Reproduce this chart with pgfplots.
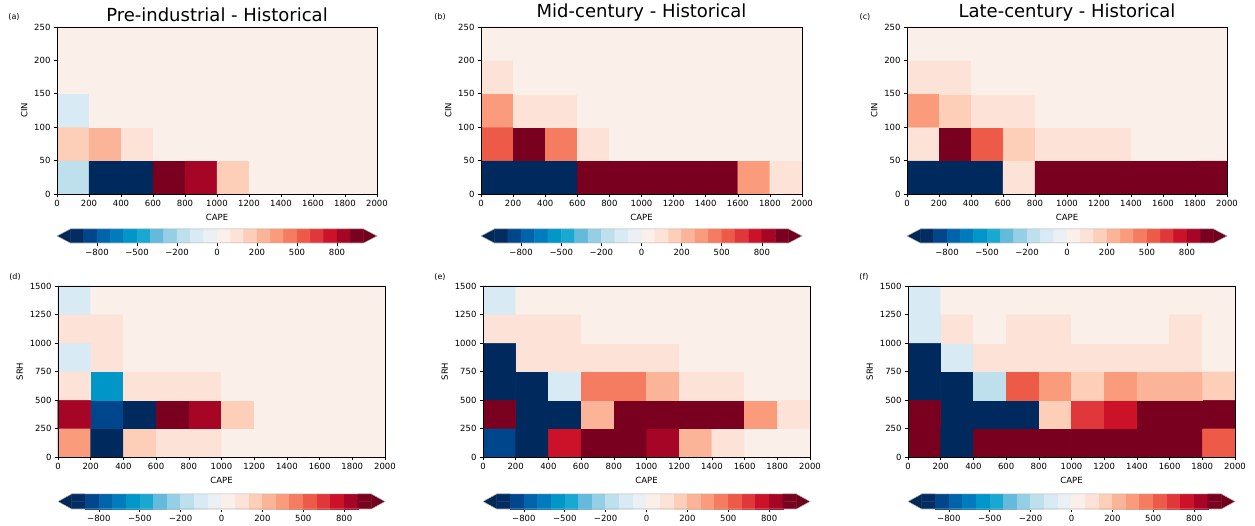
\documentclass[border=0pt]{standalone}
\usepackage{pgfplots}
\usepackage{pgfplotstable}
\pgfplotsset{compat=1.18}
\usepackage{fontspec}
\setmainfont{DejaVu Sans}

\pgfplotsset{
  colormap={diffmap}{
    rgb255(0pt)=(0,42,94)
    rgb255(150pt)=(3,44,96)
    rgb255(250pt)=(0,70,140)
    rgb255(350pt)=(0,100,170)
    rgb255(450pt)=(0,124,190)
    rgb255(550pt)=(0,150,200)
    rgb255(650pt)=(25,168,210)
    rgb255(750pt)=(100,186,219)
    rgb255(850pt)=(148,207,230)
    rgb255(950pt)=(190,224,236)
    rgb255(1025pt)=(216,234,243)
    rgb255(1075pt)=(234,240,243)
    rgb255(1125pt)=(250,239,233)
    rgb255(1175pt)=(253,227,215)
    rgb255(1250pt)=(253,206,184)
    rgb255(1350pt)=(252,180,152)
    rgb255(1450pt)=(250,155,123)
    rgb255(1550pt)=(245,124,97)
    rgb255(1650pt)=(238,90,72)
    rgb255(1750pt)=(224,55,58)
    rgb255(1850pt)=(204,18,40)
    rgb255(1950pt)=(166,5,38)
    rgb255(2050pt)=(122,0,31)
    rgb255(2200pt)=(122,0,31)
  },
}
\definecolor{cbunder}{RGB}{2,40,88}
\definecolor{cbover}{RGB}{112,0,28}

\pgfplotsset{
  heat/.style={
    scale only axis, enlargelimits=false, axis on top,
    xmin=0, xmax=2000, xtick={0,200,...,2000},
    tick align=outside, xtick pos=bottom, ytick pos=left,
    major tick length=3pt, tick style={black, line width=0.6pt},
    axis line style={line width=0.8pt},
    colormap name=diffmap, point meta min=-1100, point meta max=1100,
    xlabel={CAPE},
    ticklabel style={font=\fontsize{8.5}{10}\selectfont},
    label style={font=\fontsize{8.5}{10}\selectfont},
    /pgf/number format/1000 sep={},
    /pgf/number format/assume math mode=true,
    title style={font=\fontsize{18}{20}\selectfont, yshift=-4pt},
  },
  top/.style={heat, ymin=0, ymax=250, ytick={0,50,...,250}, ylabel={CIN}, width=320pt, height=167pt},
  bot/.style={heat, ymin=0, ymax=1500, ytick={0,250,...,1500}, ylabel={SRH}, width=327pt, height=171pt},
  cbar/.style={
    scale only axis, xmin=-1, xmax=23, ymin=0, ymax=1, clip=false,
    axis line style={draw=none}, ytick=\empty,
    xtick={2,5,8,11,14,17,20},
    xticklabels={−800,−500,−200,0,200,500,800},
    tick align=outside, xtick pos=bottom, major tick length=3pt,
    tick style={black, line width=0.6pt},
    ticklabel style={font=\fontsize{8.5}{10}\selectfont},
    colormap name=diffmap, point meta min=-1100, point meta max=1100,
  },
}

\pgfplotstableread[row sep=\\]{
x y v \\
100 25 -150 \\ 300 25 -1100 \\ 500 25 -1100 \\ 700 25 1100 \\ 900 25 850 \\ 1100 25 150 \\ 1300 25 25 \\ 1500 25 25 \\ 1700 25 25 \\ 1900 25 25 \\
100 75 150 \\ 300 75 250 \\ 500 75 75 \\ 700 75 25 \\ 900 75 25 \\ 1100 75 25 \\ 1300 75 25 \\ 1500 75 25 \\ 1700 75 25 \\ 1900 75 25 \\
100 125 -75 \\ 300 125 25 \\ 500 125 25 \\ 700 125 25 \\ 900 125 25 \\ 1100 125 25 \\ 1300 125 25 \\ 1500 125 25 \\ 1700 125 25 \\ 1900 125 25 \\
100 175 25 \\ 300 175 25 \\ 500 175 25 \\ 700 175 25 \\ 900 175 25 \\ 1100 175 25 \\ 1300 175 25 \\ 1500 175 25 \\ 1700 175 25 \\ 1900 175 25 \\
100 225 25 \\ 300 225 25 \\ 500 225 25 \\ 700 225 25 \\ 900 225 25 \\ 1100 225 25 \\ 1300 225 25 \\ 1500 225 25 \\ 1700 225 25 \\ 1900 225 25 \\
}\tabA

\pgfplotstableread[row sep=\\]{
x y v \\
100 25 -1100 \\ 300 25 -1100 \\ 500 25 -1100 \\ 700 25 1100 \\ 900 25 1100 \\ 1100 25 1100 \\ 1300 25 1100 \\ 1500 25 1100 \\ 1700 25 350 \\ 1900 25 75 \\
100 75 550 \\ 300 75 1100 \\ 500 75 450 \\ 700 75 75 \\ 900 75 25 \\ 1100 75 25 \\ 1300 75 25 \\ 1500 75 25 \\ 1700 75 25 \\ 1900 75 25 \\
100 125 350 \\ 300 125 75 \\ 500 125 75 \\ 700 125 25 \\ 900 125 25 \\ 1100 125 25 \\ 1300 125 25 \\ 1500 125 25 \\ 1700 125 25 \\ 1900 125 25 \\
100 175 75 \\ 300 175 25 \\ 500 175 25 \\ 700 175 25 \\ 900 175 25 \\ 1100 175 25 \\ 1300 175 25 \\ 1500 175 25 \\ 1700 175 25 \\ 1900 175 25 \\
100 225 25 \\ 300 225 25 \\ 500 225 25 \\ 700 225 25 \\ 900 225 25 \\ 1100 225 25 \\ 1300 225 25 \\ 1500 225 25 \\ 1700 225 25 \\ 1900 225 25 \\
}\tabB

\pgfplotstableread[row sep=\\]{
x y v \\
100 25 -1100 \\ 300 25 -1100 \\ 500 25 -1100 \\ 700 25 75 \\ 900 25 1100 \\ 1100 25 1100 \\ 1300 25 1100 \\ 1500 25 1100 \\ 1700 25 1100 \\ 1900 25 1100 \\
100 75 75 \\ 300 75 1100 \\ 500 75 550 \\ 700 75 150 \\ 900 75 75 \\ 1100 75 75 \\ 1300 75 75 \\ 1500 75 25 \\ 1700 75 25 \\ 1900 75 25 \\
100 125 350 \\ 300 125 150 \\ 500 125 75 \\ 700 125 75 \\ 900 125 25 \\ 1100 125 25 \\ 1300 125 25 \\ 1500 125 25 \\ 1700 125 25 \\ 1900 125 25 \\
100 175 75 \\ 300 175 75 \\ 500 175 25 \\ 700 175 25 \\ 900 175 25 \\ 1100 175 25 \\ 1300 175 25 \\ 1500 175 25 \\ 1700 175 25 \\ 1900 175 25 \\
100 225 25 \\ 300 225 25 \\ 500 225 25 \\ 700 225 25 \\ 900 225 25 \\ 1100 225 25 \\ 1300 225 25 \\ 1500 225 25 \\ 1700 225 25 \\ 1900 225 25 \\
}\tabC

\pgfplotstableread[row sep=\\]{
x y v \\
100 125 350 \\ 300 125 -1100 \\ 500 125 150 \\ 700 125 75 \\ 900 125 75 \\ 1100 125 25 \\ 1300 125 25 \\ 1500 125 25 \\ 1700 125 25 \\ 1900 125 25 \\
100 375 850 \\ 300 375 -850 \\ 500 375 -1100 \\ 700 375 1100 \\ 900 375 850 \\ 1100 375 150 \\ 1300 375 25 \\ 1500 375 25 \\ 1700 375 25 \\ 1900 375 25 \\
100 625 75 \\ 300 625 -550 \\ 500 625 75 \\ 700 625 75 \\ 900 625 75 \\ 1100 625 25 \\ 1300 625 25 \\ 1500 625 25 \\ 1700 625 25 \\ 1900 625 25 \\
100 875 -75 \\ 300 875 75 \\ 500 875 25 \\ 700 875 25 \\ 900 875 25 \\ 1100 875 25 \\ 1300 875 25 \\ 1500 875 25 \\ 1700 875 25 \\ 1900 875 25 \\
100 1125 75 \\ 300 1125 75 \\ 500 1125 25 \\ 700 1125 25 \\ 900 1125 25 \\ 1100 1125 25 \\ 1300 1125 25 \\ 1500 1125 25 \\ 1700 1125 25 \\ 1900 1125 25 \\
100 1375 -75 \\ 300 1375 25 \\ 500 1375 25 \\ 700 1375 25 \\ 900 1375 25 \\ 1100 1375 25 \\ 1300 1375 25 \\ 1500 1375 25 \\ 1700 1375 25 \\ 1900 1375 25 \\
}\tabD

\pgfplotstableread[row sep=\\]{
x y v \\
100 125 -850 \\ 300 125 -1100 \\ 500 125 750 \\ 700 125 1100 \\ 900 125 1100 \\ 1100 125 850 \\ 1300 125 250 \\ 1500 125 75 \\ 1700 125 25 \\ 1900 125 25 \\
100 375 1100 \\ 300 375 -1100 \\ 500 375 -1100 \\ 700 375 250 \\ 900 375 1100 \\ 1100 375 1100 \\ 1300 375 1100 \\ 1500 375 1100 \\ 1700 375 350 \\ 1900 375 75 \\
100 625 -1100 \\ 300 625 -1100 \\ 500 625 -75 \\ 700 625 450 \\ 900 625 450 \\ 1100 625 250 \\ 1300 625 75 \\ 1500 625 75 \\ 1700 625 25 \\ 1900 625 25 \\
100 875 -1100 \\ 300 875 75 \\ 500 875 75 \\ 700 875 75 \\ 900 875 75 \\ 1100 875 75 \\ 1300 875 25 \\ 1500 875 25 \\ 1700 875 25 \\ 1900 875 25 \\
100 1125 75 \\ 300 1125 75 \\ 500 1125 75 \\ 700 1125 25 \\ 900 1125 25 \\ 1100 1125 25 \\ 1300 1125 25 \\ 1500 1125 25 \\ 1700 1125 25 \\ 1900 1125 25 \\
100 1375 -75 \\ 300 1375 25 \\ 500 1375 25 \\ 700 1375 25 \\ 900 1375 25 \\ 1100 1375 25 \\ 1300 1375 25 \\ 1500 1375 25 \\ 1700 1375 25 \\ 1900 1375 25 \\
}\tabE

\pgfplotstableread[row sep=\\]{
x y v \\
100 125 1100 \\ 300 125 -1100 \\ 500 125 1100 \\ 700 125 1100 \\ 900 125 1100 \\ 1100 125 1100 \\ 1300 125 1100 \\ 1500 125 1100 \\ 1700 125 1100 \\ 1900 125 550 \\
100 375 1100 \\ 300 375 -1100 \\ 500 375 -1100 \\ 700 375 -1100 \\ 900 375 150 \\ 1100 375 650 \\ 1300 375 750 \\ 1500 375 1100 \\ 1700 375 1100 \\ 1900 375 1100 \\
100 625 -1100 \\ 300 625 -1100 \\ 500 625 -150 \\ 700 625 550 \\ 900 625 350 \\ 1100 625 150 \\ 1300 625 350 \\ 1500 625 250 \\ 1700 625 250 \\ 1900 625 150 \\
100 875 -1100 \\ 300 875 -75 \\ 500 875 75 \\ 700 875 75 \\ 900 875 75 \\ 1100 875 75 \\ 1300 875 75 \\ 1500 875 75 \\ 1700 875 75 \\ 1900 875 25 \\
100 1125 -75 \\ 300 1125 75 \\ 500 1125 25 \\ 700 1125 75 \\ 900 1125 75 \\ 1100 1125 25 \\ 1300 1125 25 \\ 1500 1125 25 \\ 1700 1125 75 \\ 1900 1125 25 \\
100 1375 -75 \\ 300 1375 25 \\ 500 1375 25 \\ 700 1375 25 \\ 900 1375 25 \\ 1100 1375 25 \\ 1300 1375 25 \\ 1500 1375 25 \\ 1700 1375 25 \\ 1900 1375 25 \\
}\tabF

\pgfplotstableread[row sep=\\]{
x y v \\
0.5 0.25 -950 \\ 1.5 0.25 -850 \\ 2.5 0.25 -750 \\ 3.5 0.25 -650 \\ 4.5 0.25 -550 \\ 5.5 0.25 -450 \\ 6.5 0.25 -350 \\ 7.5 0.25 -250 \\ 8.5 0.25 -150 \\ 9.5 0.25 -75 \\ 10.5 0.25 -25 \\
11.5 0.25 25 \\ 12.5 0.25 75 \\ 13.5 0.25 150 \\ 14.5 0.25 250 \\ 15.5 0.25 350 \\ 16.5 0.25 450 \\ 17.5 0.25 550 \\ 18.5 0.25 650 \\ 19.5 0.25 750 \\ 20.5 0.25 850 \\ 21.5 0.25 950 \\
0.5 0.75 -950 \\ 1.5 0.75 -850 \\ 2.5 0.75 -750 \\ 3.5 0.75 -650 \\ 4.5 0.75 -550 \\ 5.5 0.75 -450 \\ 6.5 0.75 -350 \\ 7.5 0.75 -250 \\ 8.5 0.75 -150 \\ 9.5 0.75 -75 \\ 10.5 0.75 -25 \\
11.5 0.75 25 \\ 12.5 0.75 75 \\ 13.5 0.75 150 \\ 14.5 0.75 250 \\ 15.5 0.75 350 \\ 16.5 0.75 450 \\ 17.5 0.75 550 \\ 18.5 0.75 650 \\ 19.5 0.75 750 \\ 20.5 0.75 850 \\ 21.5 0.75 950 \\
}\cbdata

\newcommand{\colorbar}[4]{%
\begin{axis}[cbar, at={(#1pt,#2pt)}, anchor=south west, width=#3pt, height=#4pt]
  \addplot[matrix plot*, mesh/cols=22, point meta=explicit] table[x=x, y=y, meta=v] {\cbdata};
  \addplot[fill=cbunder, draw=none] coordinates {(0,0) (-1,0.5) (0,1) (0,0)};
  \addplot[fill=cbover, draw=none] coordinates {(22,0) (23,0.5) (22,1) (22,0)};
  \addplot[draw=gray!60, line width=0.5pt] coordinates {(-1,0.5) (0,0) (22,0) (23,0.5) (22,1) (0,1) (-1,0.5)};
\end{axis}}

\newcommand{\cells}[1]{%
  \addplot[matrix plot*, mesh/cols=10, point meta=explicit] table[x=x, y=y, meta=v] {#1};
  \addplot[matrix plot*, mesh/cols=10, point meta=explicit] table[x=x, y=y, meta=v] {#1};
  \addplot[matrix plot*, mesh/cols=10, point meta=explicit] table[x=x, y=y, meta=v] {#1};}

\begin{document}
\begin{tikzpicture}
\useasboundingbox (0,0) rectangle (1255pt,526pt);

\begin{axis}[top, at={(57pt,332pt)}, anchor=south west, title={Pre-industrial - Historical}]
  \cells{\tabA}
\end{axis}
\begin{axis}[top, at={(481pt,332pt)}, anchor=south west, width=321pt, title={Mid-century - Historical}]
  \cells{\tabB}
\end{axis}
\begin{axis}[top, at={(907pt,332pt)}, anchor=south west, title={Late-century - Historical}]
  \cells{\tabC}
\end{axis}

\begin{axis}[bot, at={(58pt,69pt)}, anchor=south west]
  \cells{\tabD}
\end{axis}
\begin{axis}[bot, at={(483pt,69pt)}, anchor=south west]
  \cells{\tabE}
\end{axis}
\begin{axis}[bot, at={(908pt,69pt)}, anchor=south west]
  \cells{\tabF}
\end{axis}

\colorbar{57}{283}{320}{14}
\colorbar{481}{283}{321}{14}
\colorbar{907}{283}{320}{14}
\colorbar{58}{17}{327}{15}
\colorbar{483}{17}{327}{15}
\colorbar{908}{17}{327}{15}

\begin{scope}[every node/.style={font=\fontsize{8}{9}\selectfont}]
\node at (14pt,509pt) {(a)};
\node at (440pt,509pt) {(b)};
\node at (865pt,509pt) {(c)};
\node at (15pt,249pt) {(d)};
\node at (440pt,249pt) {(e)};
\node at (864pt,249pt) {(f)};
\end{scope}
\end{tikzpicture}
\end{document}
